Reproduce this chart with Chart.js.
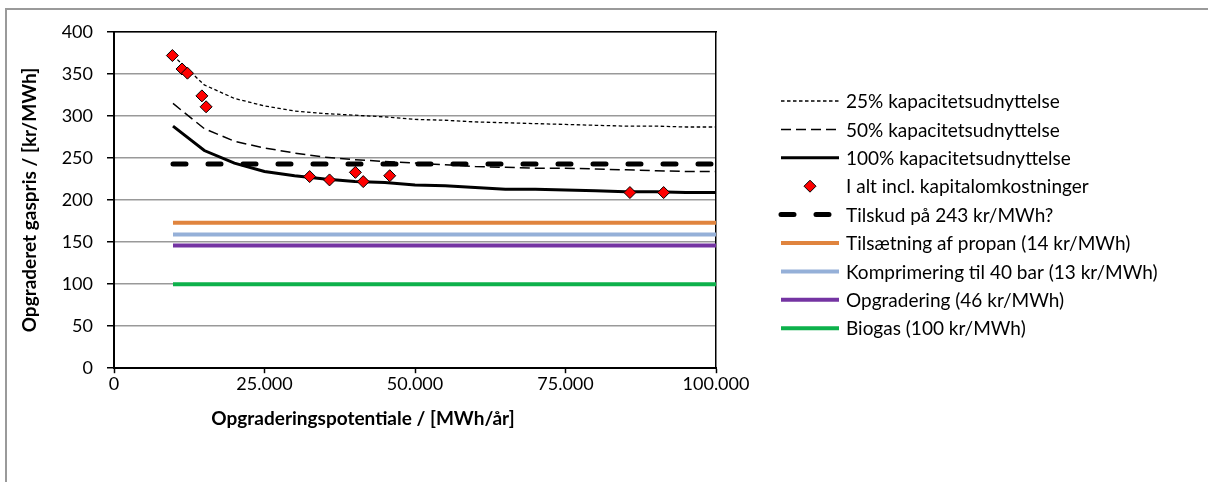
<!DOCTYPE html>
<html lang="da">
<head>
  <meta charset="utf-8" />
  <title>Opgraderet gaspris</title>
  <style>
    html, body { margin: 0; padding: 0; background: #fff; overflow: hidden; }
    #wrap { position: relative; width: 1208px; height: 482px; }
    #frame { position: absolute; left: 5px; top: 8px; width: 1400px; height: 700px; border: 2px solid #9a9a9a; box-sizing: border-box; }
    canvas { position: absolute; left: 0; top: 0; }
  </style>
  <script src="https://cdn.jsdelivr.net/npm/chart.js"></script>
</head>
<body>
<div id="wrap">
  <div id="frame"></div>
  <canvas id="chart" width="1208" height="482"></canvas>
</div>
<script>
  // kapacitetskurver (x = MWh/år)
  const capX   = [9800, 15000, 20000, 25000, 30000, 35000, 40000, 45000, 50000, 55000, 60000, 65000, 70000, 75000, 80000, 85000, 90000, 95000, 100000];
  const cap25  = [372, 337, 321, 312, 306, 303, 301, 299, 296, 295, 293, 292, 291, 290, 289, 288, 288, 287, 287];
  const cap50  = [315, 285, 270, 262, 256, 251, 248, 246, 244, 242, 240, 239, 238, 238, 237, 236, 235, 234, 234];
  const cap100 = [288, 259, 244, 234, 229, 225, 222, 221, 218, 217, 215, 213, 213, 212, 211, 210, 210, 209, 209];

  // anlæg, i alt incl. kapitalomkostninger
  const plantX     = [9700, 11300, 12200, 14600, 15300, 32500, 35800, 40100, 41400, 45800, 85700, 91300];
  const plantTotal = [372, 356, 351, 324, 311, 228, 224, 233, 222, 229, 209, 209];

  // vandrette niveauer
  const levelX = [9800, 100000];
  const tilskud = 243;
  const propan = 173;
  const kompr = 159;
  const opgr = 146;
  const biogas = 100;

  const xTicks = [0, 25000, 50000, 75000, 100000];
  const FONT = 'Lato';

  const pts = (xs, ys) => xs.map((x, i) => ({ x: x, y: ys[i] }));
  const flat = v => levelX.map(x => ({ x: x, y: v }));
  const fmt = v => String(v).replace(/\B(?=(\d{3})+(?!\d))/g, '.');

  const sideLegend = {
    id: 'sideLegend',
    afterDraw(chart) {
      const o = chart.options.plugins.sideLegend;
      const ctx = chart.ctx;
      chart.data.datasets.forEach((ds, i) => {
        const y = o.top + i * o.step;
        ctx.save();
        if (ds.showLine === false) {
          ctx.fillStyle = ds.backgroundColor;
          ctx.strokeStyle = ds.borderColor;
          ctx.lineWidth = ds.pointBorderWidth;
          Chart.helpers.drawPoint(ctx, { pointStyle: 'rectRot', radius: ds.pointRadius, borderWidth: ds.pointBorderWidth }, o.left + o.sample / 2, y);
        } else {
          ctx.strokeStyle = ds.borderColor;
          ctx.lineWidth = ds.borderWidth;
          ctx.lineCap = ds.borderCapStyle || 'butt';
          ctx.setLineDash(ds.borderDash || []);
          ctx.beginPath();
          ctx.moveTo(o.left, y);
          ctx.lineTo(o.left + o.sample, y);
          ctx.stroke();
        }
        ctx.setLineDash([]);
        ctx.fillStyle = '#000';
        ctx.font = o.fontSize + 'px ' + FONT;
        ctx.textBaseline = 'middle';
        ctx.fillText(ds.label, o.left + o.sample + o.gap, y + 1);
        ctx.restore();
      });
    }
  };

  new Chart(document.getElementById('chart'), {
    type: 'line',
    data: {
      datasets: [
        { label: '25% kapacitetsudnyttelse', data: pts(capX, cap25), borderColor: '#000', borderWidth: 1.3, borderDash: [3.5, 2.5], pointRadius: 0, order: 3 },
        { label: '50% kapacitetsudnyttelse', data: pts(capX, cap50), borderColor: '#000', borderWidth: 1.5, borderDash: [10, 5], pointRadius: 0, order: 3 },
        { label: '100% kapacitetsudnyttelse', data: pts(capX, cap100), borderColor: '#000', borderWidth: 3, pointRadius: 0, order: 2 },
        { label: 'I alt incl. kapitalomkostninger', data: pts(plantX, plantTotal), showLine: false, backgroundColor: '#ff0000', borderColor: '#000', pointBackgroundColor: '#ff0000', pointBorderColor: '#000', pointBorderWidth: 1, pointStyle: 'rectRot', pointRadius: 6, order: 0 },
        { label: 'Tilskud på 243 kr/MWh?', data: flat(tilskud), borderColor: '#000', borderWidth: 5, borderDash: [13, 22], borderCapStyle: 'round', pointRadius: 0, order: 1 },
        { label: 'Tilsætning af propan (14 kr/MWh)', data: flat(propan), borderColor: '#e0843e', borderWidth: 4, pointRadius: 0, order: 4 },
        { label: 'Komprimering til 40 bar (13 kr/MWh)', data: flat(kompr), borderColor: '#95b0d8', borderWidth: 4, pointRadius: 0, order: 4 },
        { label: 'Opgradering (46 kr/MWh)', data: flat(opgr), borderColor: '#7434a2', borderWidth: 4, pointRadius: 0, order: 4 },
        { label: 'Biogas (100 kr/MWh)', data: flat(biogas), borderColor: '#0db14b', borderWidth: 4, pointRadius: 0, order: 4 }
      ]
    },
    options: {
      responsive: false,
      animation: false,
      devicePixelRatio: 1,
      layout: { padding: { left: 10, right: 492, top: 32, bottom: 20 } },
      scales: {
        x: {
          type: 'linear', min: 0, max: 100000,
          afterBuildTicks: s => { s.ticks = xTicks.map(v => ({ value: v })); },
          afterFit: s => { s.height = 39; },
          ticks: { callback: v => fmt(v), padding: 0, maxRotation: 0, color: '#000', font: { family: FONT, size: 18 } },
          grid: { drawOnChartArea: false, drawTicks: true, tickLength: 5, tickColor: '#000', tickWidth: 1.5 },
          border: { color: '#000', width: 2 }
        },
        y: {
          min: 0, max: 400,
          ticks: { stepSize: 50, padding: 14, color: '#000', font: { family: FONT, size: 18 } },
          afterFit: s => { s.width = 104; },
          grid: { color: '#999', lineWidth: 1.5, tickLength: 7, tickColor: '#000', tickWidth: 1.5 },
          border: { color: '#000', width: 2 },
          title: { display: true, text: 'Opgraderet gaspris / [kr/MWh]', color: '#000', font: { family: FONT, size: 19, weight: 'bold' }, padding: { top: 8, bottom: 0 } }
        },
        x2: {
          type: 'linear', position: 'top', min: 0, max: 1,
          ticks: { display: false }, grid: { display: false, drawTicks: false },
          border: { color: '#000', width: 1.5 }
        },
        y2: {
          type: 'linear', position: 'right', min: 0, max: 1,
          ticks: { display: false }, grid: { display: false, drawTicks: false },
          border: { color: '#000', width: 1.5 }
        }
      },
      plugins: {
        legend: { display: false },
        tooltip: { enabled: false },
        title: {
          display: true, position: 'bottom', text: 'Opgraderingspotentiale / [MWh/år]', color: '#000',
          font: { family: FONT, size: 19, weight: 'bold' }, padding: { top: 0, bottom: 32 }
        },
        sideLegend: { left: 781, top: 101, step: 28.4, sample: 58, gap: 7, fontSize: 19 }
      }
    },
    plugins: [sideLegend]
  });
</script>
</body>
</html>
